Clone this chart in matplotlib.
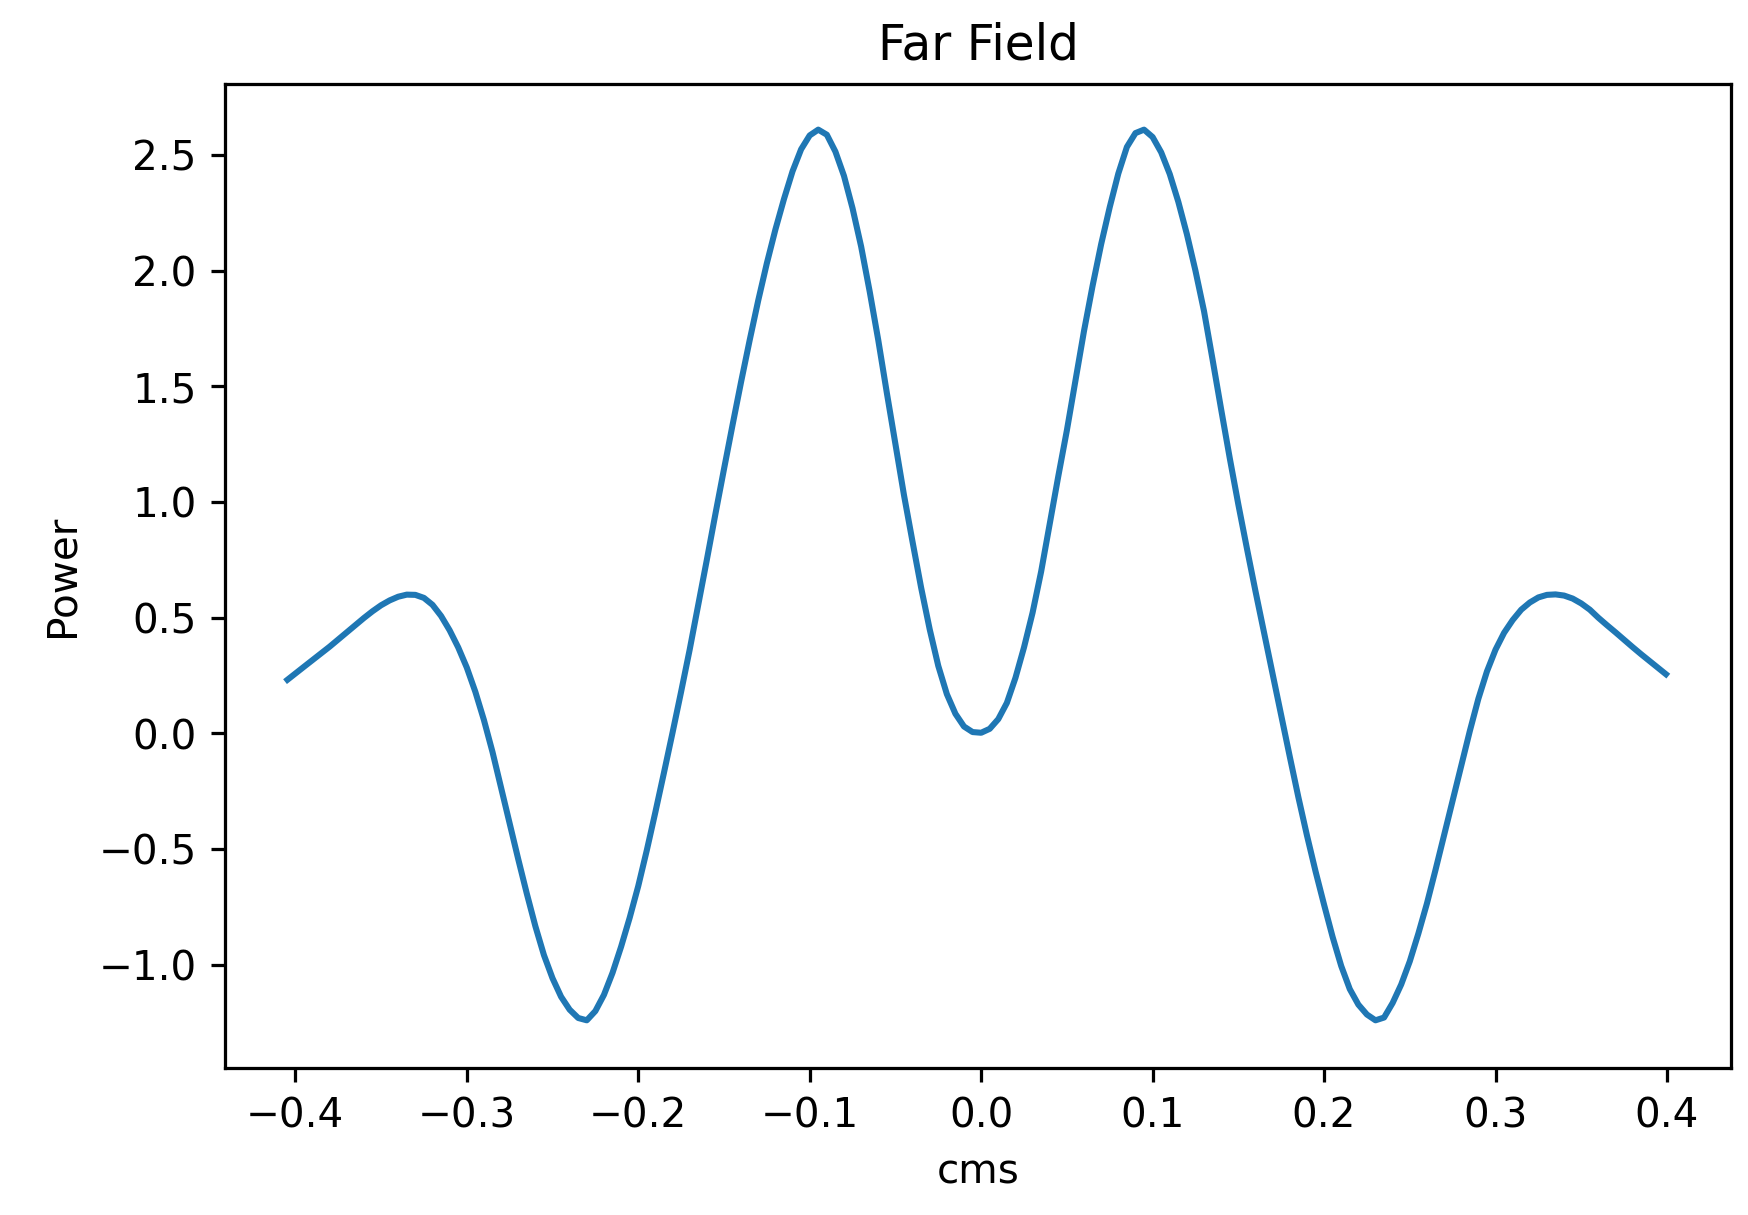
import matplotlib
matplotlib.use("Agg")
import matplotlib.pyplot as plt

# positions (cms) and power values
cms = [-0.4046, -0.400, -0.395, -0.390, -0.385, -0.380, -0.375, -0.370, -0.365, -0.360,
       -0.355, -0.350, -0.345, -0.340, -0.335, -0.330, -0.325, -0.320, -0.315, -0.310,
       -0.305, -0.300, -0.295, -0.290, -0.285, -0.280, -0.275, -0.270, -0.265, -0.260,
       -0.255, -0.250, -0.245, -0.240, -0.235, -0.230, -0.225, -0.220, -0.215, -0.210,
       -0.205, -0.200, -0.195, -0.190, -0.185, -0.180, -0.175, -0.170, -0.165, -0.160,
       -0.155, -0.150, -0.145, -0.140, -0.135, -0.130, -0.125, -0.120, -0.115, -0.110,
       -0.105, -0.100, -0.095, -0.090, -0.085, -0.080, -0.075, -0.070, -0.065, -0.060,
       -0.055, -0.050, -0.045, -0.040, -0.035, -0.030, -0.025, -0.020, -0.015, -0.010,
       -0.005, 0.000, 0.005, 0.010, 0.015, 0.020, 0.025, 0.030, 0.035, 0.040,
       0.045, 0.050, 0.055, 0.060, 0.065, 0.070, 0.075, 0.080, 0.085, 0.090,
       0.095, 0.100, 0.105, 0.110, 0.115, 0.120, 0.125, 0.130, 0.135, 0.140,
       0.145, 0.150, 0.155, 0.160, 0.165, 0.170, 0.175, 0.180, 0.185, 0.190,
       0.195, 0.200, 0.205, 0.210, 0.215, 0.220, 0.225, 0.230, 0.235, 0.240,
       0.245, 0.250, 0.255, 0.260, 0.265, 0.270, 0.275, 0.280, 0.285, 0.290,
       0.295, 0.300, 0.305, 0.310, 0.315, 0.320, 0.325, 0.330, 0.335, 0.340,
       0.345, 0.350, 0.355, 0.360, 0.365, 0.370, 0.375, 0.380, 0.385, 0.390,
       0.395, 0.3994]
power = [0.232, 0.259, 0.288, 0.317, 0.346, 0.375, 0.406, 0.437, 0.468, 0.499,
         0.528, 0.554, 0.575, 0.591, 0.600, 0.599, 0.586, 0.556, 0.508, 0.446,
         0.372, 0.285, 0.180, 0.058, -0.080, -0.235, -0.390, -0.543, -0.692, -0.833,
         -0.958, -1.058, -1.138, -1.194, -1.230, -1.240, -1.200, -1.130, -1.035, -0.922,
         -0.797, -0.660, -0.505, -0.340, -0.170, 0.003, 0.180, 0.362, 0.555, 0.750,
         0.948, 1.142, 1.333, 1.520, 1.700, 1.872, 2.032, 2.178, 2.310, 2.430,
         2.525, 2.585, 2.610, 2.588, 2.515, 2.410, 2.270, 2.105, 1.910, 1.700,
         1.472, 1.250, 1.030, 0.828, 0.630, 0.450, 0.292, 0.170, 0.085, 0.030,
         0.006, 0.003, 0.020, 0.062, 0.132, 0.240, 0.372, 0.522, 0.700, 0.905,
         1.112, 1.310, 1.525, 1.740, 1.935, 2.115, 2.275, 2.420, 2.535, 2.595,
         2.610, 2.578, 2.512, 2.418, 2.298, 2.158, 2.000, 1.825, 1.615, 1.400,
         1.190, 0.990, 0.800, 0.615, 0.435, 0.257, 0.078, -0.100, -0.275, -0.440,
         -0.595, -0.740, -0.880, -1.005, -1.105, -1.172, -1.215, -1.240, -1.228, -1.165,
         -1.085, -0.985, -0.865, -0.735, -0.590, -0.440, -0.290, -0.142, 0.010, 0.150,
         0.268, 0.362, 0.435, 0.490, 0.535, 0.566, 0.588, 0.599, 0.601, 0.596,
         0.583, 0.562, 0.535, 0.500, 0.468, 0.437, 0.405, 0.373, 0.342, 0.312,
         0.282, 0.256]

fig = plt.figure(figsize=(6.0, 4.17), dpi=291.4)
ax = fig.add_axes([0.1287, 0.1210, 0.8616, 0.8099])
ax.plot(cms, power, color="#1f77b4", linewidth=1.5)
ax.set_xlim(-0.441, 0.4376)
ax.set_ylim(-1.446, 2.808)
ax.set_title("Far Field")
ax.set_xlabel("cms")
ax.set_ylabel("Power")

fig.savefig("out.png", dpi=291.4)
